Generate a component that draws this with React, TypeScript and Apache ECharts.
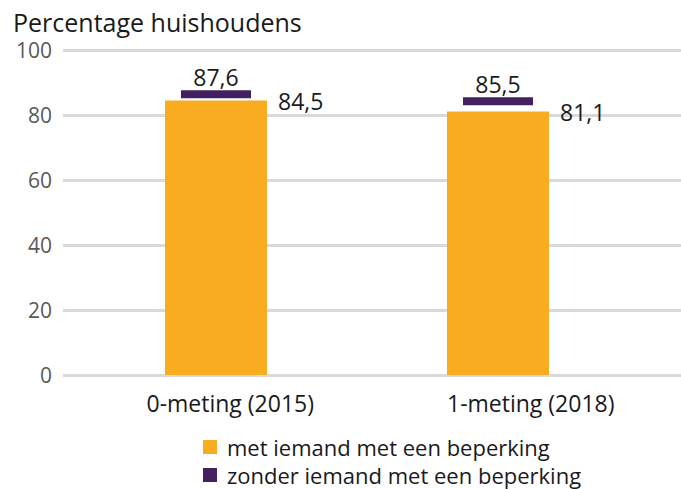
import React, { useEffect, useRef } from "react";
import * as echarts from "echarts";

const categories = ["0-meting (2015)", "1-meting (2018)"];
const seriesNames = ["met iemand met een beperking", "zonder iemand met een beperking"];
const metBeperking = [84.5, 81.1];
const zonderBeperking = [87.6, 85.5];
const yMin = 0;
const yMax = 100;
const yInterval = 20;
const yTitle = "Percentage huishoudens";

const FONT = "'Open Sans', sans-serif";
const ORANGE = "#F9AC1F";
const PURPLE = "#43205F";
const TEXT = "#1a1a1a";
const fmt = (v: number) => v.toFixed(1).replace(".", ",");

export default function App() {
  const ref = useRef<HTMLDivElement>(null);
  useEffect(() => {
    if (!ref.current) return;
    const chart = echarts.init(ref.current, undefined, { renderer: "svg" });
    const gridV = { top: 50, bottom: 114 };
    chart.setOption({
      animation: false,
      textStyle: { fontFamily: FONT },
      title: {
        text: yTitle,
        left: 8,
        top: 4,
        textStyle: { fontFamily: FONT, fontSize: 25, fontWeight: "normal", color: TEXT },
      },
      legend: {
        orient: "vertical",
        left: 203,
        top: 436,
        height: 90,
        padding: 0,
        itemWidth: 14,
        itemHeight: 14,
        itemGap: 6,
        icon: "rect",
        data: seriesNames,
        textStyle: { fontFamily: FONT, fontSize: 22, color: TEXT, padding: [0, 0, 0, 5] },
      },
      grid: [
        { left: 63, right: 0, ...gridV },
        { left: 75, width: 564, ...gridV },
        { left: 80, width: 614, ...gridV },
      ],
      xAxis: [
        { type: "category", gridIndex: 0, data: categories, show: false },
        { type: "category", gridIndex: 1, data: categories, show: false },
        {
          type: "category",
          gridIndex: 2,
          data: categories,
          axisLine: { show: false },
          axisTick: { show: false },
          axisLabel: { fontFamily: FONT, fontSize: 23, color: TEXT, margin: 16 },
        },
      ],
      yAxis: [
        {
          type: "value",
          gridIndex: 0,
          min: yMin,
          max: yMax,
          interval: yInterval,
          axisLine: { show: false },
          axisTick: { show: false },
          axisLabel: { fontFamily: FONT, fontSize: 21, color: "#595959", margin: 11 },
          splitLine: { lineStyle: { color: "#D9D9D9", width: 3 } },
        },
        { type: "value", gridIndex: 1, min: yMin, max: yMax, interval: yInterval, show: false, splitLine: { show: false } },
        { type: "value", gridIndex: 2, min: yMin, max: yMax, interval: yInterval, show: false, splitLine: { show: false } },
      ],
      series: [
        {
          name: seriesNames[0],
          type: "bar",
          xAxisIndex: 1,
          yAxisIndex: 1,
          data: metBeperking,
          barWidth: 102,
          itemStyle: { color: ORANGE },
          label: {
            show: true,
            position: [113, 1],
            align: "left",
            verticalAlign: "middle",
            fontFamily: FONT,
            fontSize: 23,
            color: TEXT,
            formatter: (p: any) => fmt(p.value),
          },
        },
        {
          name: seriesNames[1],
          type: "scatter",
          xAxisIndex: 1,
          yAxisIndex: 1,
          data: zonderBeperking,
          symbol: "rect",
          symbolSize: [70, 8],
          symbolOffset: [0, 4],
          itemStyle: { color: PURPLE, opacity: 1 },
          z: 3,
          label: {
            show: true,
            position: "top",
            distance: 2,
            fontFamily: FONT,
            fontSize: 23,
            color: TEXT,
            formatter: (p: any) => fmt(p.value),
          },
        },
      ],
    });
    return () => chart.dispose();
  }, []);
  return <div ref={ref} style={{ width: 681, height: 489, position: "absolute", left: 0, top: 0 }} />;
}
